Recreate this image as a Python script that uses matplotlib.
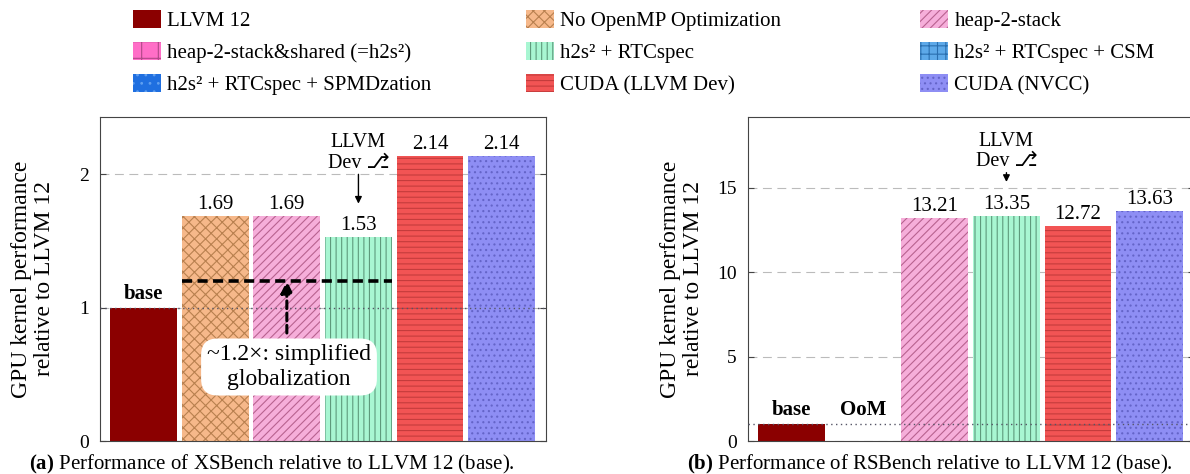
import numpy as np
import matplotlib
matplotlib.use("Agg")
import matplotlib.pyplot as plt
import matplotlib.patches as mpatches

plt.rcParams['font.family'] = ['Liberation Serif', 'DejaVu Sans']
plt.rcParams['mathtext.fontset'] = 'custom'
plt.rcParams['mathtext.rm'] = 'Liberation Serif'
plt.rcParams['mathtext.bf'] = 'Liberation Serif:bold'
plt.rcParams['hatch.linewidth'] = 0.8

# legend entries (row-major, as in the picture)
legend_names = ['LLVM 12', 'No OpenMP Optimization', 'heap-2-stack',
                'heap-2-stack&shared (=h2s²)', 'h2s² + RTCspec', 'h2s² + RTCspec + CSM',
                'h2s² + RTCspec + SPMDzation', 'CUDA (LLVM Dev)', 'CUDA (NVCC)']
legend_faces = ['#8B0000', '#F6B88A', '#F6AEDA',
                '#FF6EC7', '#A8F6D2', '#5DA9E9',
                '#1F6FE0', '#F25454', '#8E8EF4']
legend_hatch_colors = ['#8B0000', '#B8804F', '#B8628F',
                       '#B04888', '#5E9A7C', '#2A6FB0',
                       '#5F9FF0', '#C43C3C', '#6464C8']
legend_hatches = [None, 'xxx', '////', '+', '|||', '++', '..', '---', '...']

# bars that appear in both panels (index into legend lists)
bar_series = [0, 1, 2, 4, 7, 8]
xsbench_values = [1.0, 1.69, 1.69, 1.53, 2.14, 2.14]
rsbench_values = [1.0, np.nan, 13.21, 13.35, 12.72, 13.63]
xsbench_labels = ['base', '1.69', '1.69', '1.53', '2.14', '2.14']
rsbench_labels = ['base', 'OoM', '13.21', '13.35', '12.72', '13.63']

W, H = 1190, 474
fig = plt.figure(figsize=(W / 100, H / 100), dpi=100)
ax_a = fig.add_axes([100 / W, 1 - 441 / H, 446 / W, 324 / H])
ax_b = fig.add_axes([748 / W, 1 - 441 / H, 446 / W, 324 / H])


def draw_panel(ax, values, labels, ymax, yticks):
    x = np.arange(len(values))
    for i, s in enumerate(bar_series):
        ax.bar(x[i], values[i], width=0.935, color=legend_faces[s],
               edgecolor=legend_hatch_colors[s], hatch=legend_hatches[s],
               linewidth=0, zorder=2)
    for i, lab in enumerate(labels):
        if lab in ('base', 'OoM'):
            ax.annotate(lab, (x[i], 1.0), xytext=(0, 6.5), textcoords='offset points',
                        ha='center', va='baseline', fontsize=15, fontweight='bold')
        else:
            ax.annotate(lab, (x[i], values[i]), xytext=(0, 5), textcoords='offset points',
                        ha='center', va='baseline', fontsize=15)
    # reference line at 1
    ax.axhline(1.0, color='#555566', lw=1.0, ls=(0, (1, 2.5)), zorder=4)
    ax.set_xlim(-0.61, 5.62)
    ax.set_ylim(0, ymax)
    ax.set_yticks(yticks)
    ax.set_xticks([])
    ax.tick_params(axis='y', direction='in', length=4, width=0.8, right=True,
                   labelsize=14, pad=8, color='#444444')
    ax.yaxis.grid(True, color='#BBBBBB', lw=0.8, ls=(0, (8, 5)))
    ax.set_axisbelow(True)
    for sp in ax.spines.values():
        sp.set_color('#444444')
        sp.set_linewidth(0.8)


draw_panel(ax_a, xsbench_values, xsbench_labels, 2.43, [0, 1, 2])
draw_panel(ax_b, rsbench_values, rsbench_labels, 19.2, [0, 5, 10, 15])

# LLVM Dev markers
for ax, tail, tip in [(ax_a, 2.0, 1.78), (ax_b, 15.9, 15.35)]:
    ax.annotate('', xy=(3, tip), xytext=(3, tail),
                arrowprops=dict(arrowstyle='-|>', color='black', lw=1.0,
                                shrinkA=0, shrinkB=0, mutation_scale=10))
    ax.annotate('Dev ⎇', (3, tail), xytext=(0, 4.5), textcoords='offset points',
                ha='center', va='baseline', fontsize=14.5)
    ax.annotate('LLVM', (3, tail), xytext=(0, 19.5), textcoords='offset points',
                ha='center', va='baseline', fontsize=14.5)

# simplified globalization note
ax_a.plot([1 - 0.4675, 3 + 0.4675], [1.2, 1.2], color='black', lw=2.6,
          ls=(0, (2.8, 1.5)), zorder=5)
ax_a.annotate('', xy=(2, 1.2), xytext=(2, 0.81),
              arrowprops=dict(arrowstyle='-|>,head_length=0.5,head_width=0.25',
                              color='black', lw=2.2, ls=(0, (2.5, 1.5)),
                              shrinkA=0, shrinkB=0, mutation_scale=14), zorder=5)
ax_a.text(2.03, 0.555, '~1.2×: simplified\nglobalization', ha='center', va='center',
          fontsize=17, linespacing=1.2, zorder=6,
          bbox=dict(boxstyle='round,pad=0.25,rounding_size=0.7', fc='white', ec='none'))

# y labels
for xc in (33, 682):
    fig.text(xc / W, 1 - 279 / H, 'GPU kernel performance\nrelative to LLVM 12',
             rotation=90, ha='center', va='center', fontsize=17, linespacing=1.1)

# captions
for xc, cap in [(272, r'$\mathbf{(a)}$ Performance of XSBench relative to LLVM 12 (base).'),
                (930, r'$\mathbf{(b)}$ Performance of RSBench relative to LLVM 12 (base).')]:
    fig.text(xc / W, 1 - 469 / H, cap, fontsize=15, ha='center', va='baseline')

# legend, three fixed-position columns
handles = [mpatches.Patch(facecolor=legend_faces[i], edgecolor=legend_hatch_colors[i],
                          hatch=legend_hatches[i], linewidth=0, label=legend_names[i])
           for i in range(len(legend_names))]
for col, xc in enumerate((133, 526, 920)):
    fig.legend(handles=handles[col::3], loc='upper left',
               bbox_to_anchor=(xc / W, 1 - 10 / H), frameon=False, borderpad=0,
               borderaxespad=0, handlelength=1.35, handleheight=0.95,
               handletextpad=0.3, labelspacing=0.52, fontsize=15)

fig.savefig('out.png', dpi=100)
